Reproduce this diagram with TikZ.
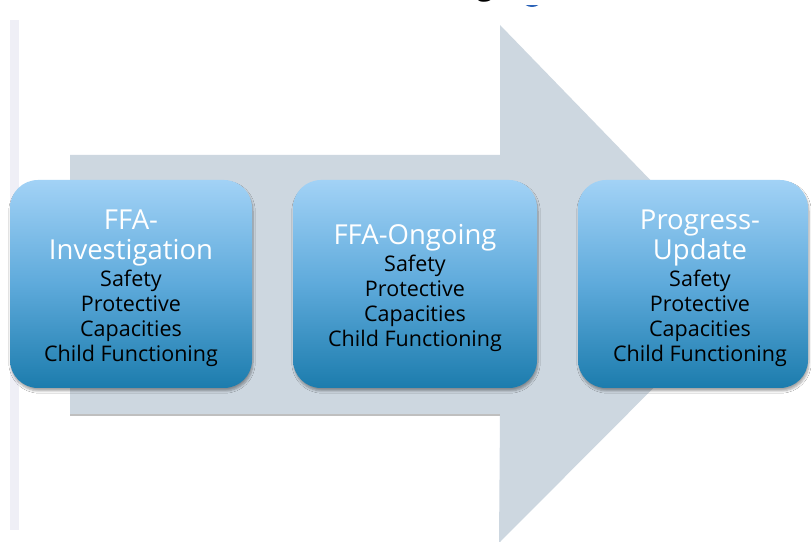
\documentclass[tikz,border=0pt]{standalone}
\usepackage{fontspec}
\setmainfont{Open Sans}
\usetikzlibrary{shadows.blur}
\definecolor{arrowgrey}{HTML}{CDD7E0}
\definecolor{boxtop}{HTML}{A2D2F6}
\definecolor{boxmid}{HTML}{5EAADB}
\definecolor{boxbot}{HTML}{1C7CAD}
\definecolor{barcol}{HTML}{EFEFF6}
\definecolor{dotblue}{HTML}{2A62B8}
\tikzset{
  stagebox/.style={rounded corners=28pt, minimum width=#1, minimum height=208pt,
    inner sep=0pt, top color=boxtop, bottom color=boxbot, middle color=boxmid,
    blur shadow={shadow xshift=1pt, shadow yshift=-3pt, shadow blur steps=6, shadow opacity=35}},
  titletext/.style={align=center, text=white, font=\fontsize{27.5}{30}\selectfont},
  bodytext/.style={align=center, text=black, font=\fontsize{21.5}{25}\selectfont},
}
\begin{document}
\begin{tikzpicture}[x=1pt,y=1pt]
\useasboundingbox (0,0) rectangle (811,541);
\clip (0,0) rectangle (811,541);
\fill[white] (0,0) rectangle (811,541);
% left bar
\fill[barcol] (10,11) rectangle (19,521);
% top remnants
\node[anchor=base, font=\bfseries\fontsize{28}{30}\selectfont, inner sep=0pt] (gfrag) at (485,545) {g};
\fill[dotblue] (532,541) ellipse (9pt and 7pt);
\fill[white] (520,536) rectangle (545,545);
% arrow
\fill[arrowgrey] (70,386) -- (500,386) -- (500,516) -- (754,254) -- (499,-2) -- (500,126) -- (70,126) -- cycle;
\draw[black!25, line width=1.2pt] (70,126) -- (500,126);
% boxes
\node[stagebox=242pt] (box1) at (131,257) {};
\node[stagebox=244pt] (box2) at (415,257) {};
\node[stagebox=230pt] (box3) at (693,257) {};
% texts
\node[titletext] (t1) at (131,303) {FFA-\\Investigation};
\node[bodytext] (b1) at (131,223) {Safety\\Protective\\Capacities\\Child Functioning};
\node[titletext] (t2) at (415,303) {FFA-Ongoing};
\node[bodytext] (b2) at (415,238) {Safety\\Protective\\Capacities\\Child Functioning};
\node[titletext] (t3) at (700,303) {Progress-\\Update};
\node[bodytext] (b3) at (700,223) {Safety\\Protective\\Capacities\\Child Functioning};
\end{tikzpicture}
\end{document}
